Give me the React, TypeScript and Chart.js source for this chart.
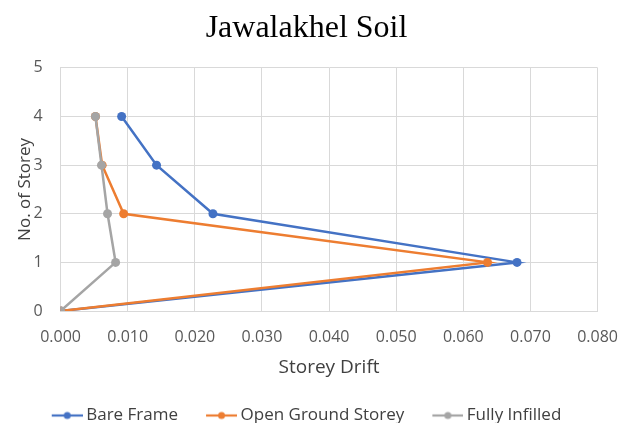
import React, { useEffect, useRef } from "react";
import { Chart, registerables } from "chart.js";

Chart.register(...registerables);

const seriesNames = ["Bare Frame", "Open Ground Storey", "Fully Infilled"];
const storeys = [0, 1, 2, 3, 4];
const bareFrame = [0, 0.068, 0.0227, 0.0143, 0.0091];
const openGround = [0, 0.0636, 0.0094, 0.0062, 0.0052];
const fullyInfilled = [0, 0.0082, 0.007, 0.0061, 0.0052];
const colors = ["#4472C4", "#ED7D31", "#A5A5A5"];
const xTicks = [0, 0.01, 0.02, 0.03, 0.04, 0.05, 0.06, 0.07, 0.08];
const yTicks = [0, 1, 2, 3, 4, 5];

function legendIcon(color: string) {
  const c = document.createElement("canvas");
  c.width = 36;
  c.height = 10;
  const ctx = c.getContext("2d")!;
  ctx.strokeStyle = color;
  ctx.lineWidth = 2.2;
  ctx.beginPath();
  ctx.moveTo(5, 5);
  ctx.lineTo(36, 5);
  ctx.stroke();
  ctx.fillStyle = color;
  ctx.beginPath();
  ctx.arc(20.5, 5, 3.5, 0, Math.PI * 2);
  ctx.fill();
  return c;
}

export default function App() {
  const ref = useRef<HTMLCanvasElement>(null);
  useEffect(() => {
    const all = [bareFrame, openGround, fullyInfilled];
    const icons = colors.map(legendIcon);
    const chart = new Chart(ref.current!, {
      type: "scatter",
      data: {
        datasets: all.map((vals, i) => ({
          label: seriesNames[i],
          data: vals.map((v, j) => ({ x: v, y: storeys[j] })),
          showLine: true,
          borderColor: colors[i],
          backgroundColor: colors[i],
          borderWidth: 2.5,
          pointRadius: 4.5,
          pointHoverRadius: 4.5,
          pointBorderWidth: 0,
          order: 3 - i,
        })),
      },
      options: {
        animation: false,
        responsive: false,
        layout: { padding: { left: 15, right: 20, top: 6, bottom: -11 } },
        plugins: {
          title: {
            display: true,
            text: "Jawalakhel Soil",
            color: "#000",
            font: { family: "'Liberation Serif', serif", size: 32, weight: "normal" },
            padding: { top: 3, bottom: 20.5 },
          },
          legend: {
            position: "bottom",
            labels: {
              usePointStyle: true,
              pointStyleWidth: 26,
              color: "#404040",
              font: { family: "'Open Sans', sans-serif", size: 17 },
              padding: 28,
              generateLabels: () =>
                seriesNames.map((n, i) => ({
                  text: n,
                  pointStyle: icons[i],
                  fillStyle: colors[i],
                  strokeStyle: colors[i],
                  lineWidth: 0,
                  hidden: false,
                  datasetIndex: i,
                  fontColor: "#404040",
                })),
            },
          },
          tooltip: { enabled: false },
        },
        scales: {
          x: {
            type: "linear",
            min: 0,
            max: 0.08,
            afterBuildTicks: (s: any) => {
              s.ticks = xTicks.map((v) => ({ value: v }));
            },
            ticks: {
              color: "#595959",
              font: { family: "'Open Sans', sans-serif", size: 16 },
              callback: (v: any) => Number(v).toFixed(3),
              maxRotation: 0,
              padding: 0,
            },
            grid: { color: "#D9D9D9", drawTicks: true, tickLength: 17, tickColor: "rgba(0,0,0,0)" },
            border: { color: "#D9D9D9" },
            title: {
              display: true,
              text: "Storey Drift",
              color: "#404040",
              font: { family: "'Open Sans', sans-serif", size: 19 },
              padding: { top: 9, bottom: 0 },
            },
          },
          y: {
            type: "linear",
            min: 0,
            max: 5,
            afterBuildTicks: (s: any) => {
              s.ticks = yTicks.map((v) => ({ value: v }));
            },
            ticks: {
              color: "#595959",
              font: { family: "'Open Sans', sans-serif", size: 16 },
              padding: 0,
            },
            grid: { color: "#D9D9D9", drawTicks: true, tickLength: 18, tickColor: "rgba(0,0,0,0)" },
            border: { color: "#D9D9D9" },
            title: {
              display: true,
              text: "No. of Storey",
              color: "#404040",
              font: { family: "'Open Sans', sans-serif", size: 17 },
              padding: { top: 0, bottom: -2 },
            },
          },
        },
      },
    });
    return () => chart.destroy();
  }, []);
  return (
    <div style={{ position: "fixed", left: 0, top: 0, width: 618, height: 423, background: "#fff" }}>
      <canvas ref={ref} width={618} height={423} style={{ width: 618, height: 423 }} />
    </div>
  );
}
